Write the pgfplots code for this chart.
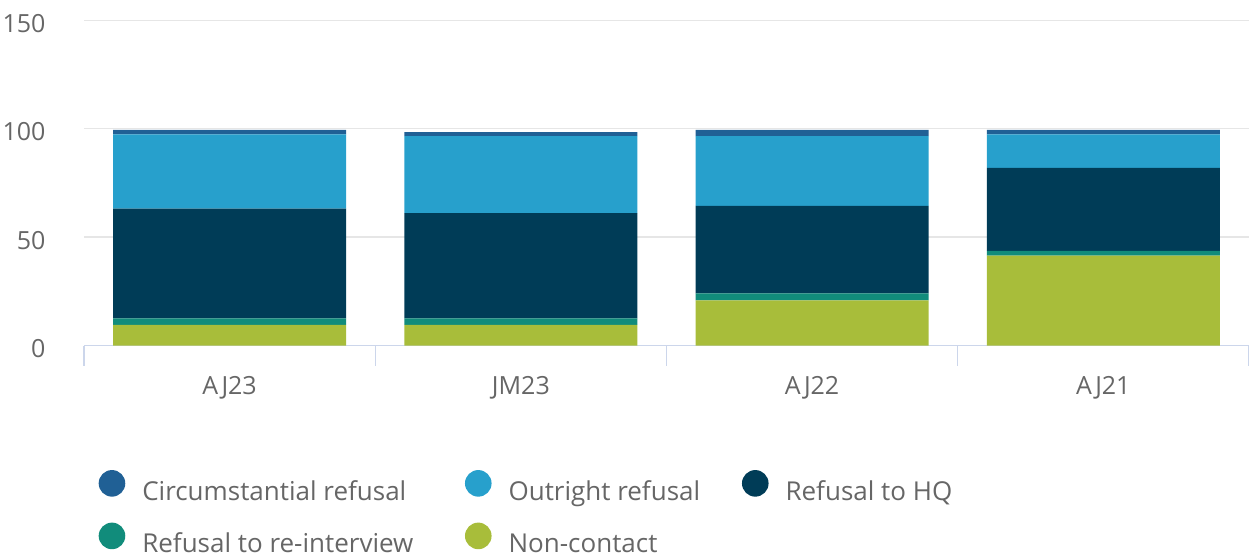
\documentclass[border=0pt]{standalone}
\usepackage{pgfplots}
\pgfplotsset{compat=1.18}
\usepackage{fontspec}
\setmainfont{Open Sans}
\definecolor{cCirc}{HTML}{206095}
\definecolor{cOut}{HTML}{27A0CC}
\definecolor{cHQ}{HTML}{003C57}
\definecolor{cRe}{HTML}{118C7B}
\definecolor{cNC}{HTML}{A8BD3A}
\definecolor{txt}{HTML}{666666}
\definecolor{axl}{HTML}{CCD6EB}
\definecolor{grd}{HTML}{E6E6E6}
\newcommand{\lt}[2]{\makebox[#1][l]{\rule[-2pt]{0pt}{21pt}#2}}
\pgfplotsset{legcirc/.style={legend image code/.code={\fill[##1] (13.3pt,8.5pt) circle (13.3pt);}}}
\begin{document}
\fontsize{24}{29}\selectfont
\begin{tikzpicture}
\path[use as bounding box] (0,0) rectangle (1249pt,557pt);
\begin{axis}[
  at={(84pt,211.5pt)}, anchor=south west,
  scale only axis, width=1165pt, height=325.2pt,
  ybar stacked, bar width=233pt,
  xmin=-0.5, xmax=3.5, ymin=0, ymax=150,
  ytick={0,50,100,150},
  xtick={0,1,2,3}, xticklabels={AJ23,JM23,AJ22,AJ21},
  minor xtick={-0.5,0.5,1.5,2.5,3.5},
  axis x line*=bottom, axis y line*=left,
  x axis line style={draw=axl, line width=1.5pt, -},
  y axis line style={draw=none},
  tick align=outside,
  major x tick style={draw=none},
  minor x tick style={draw=axl, line width=1.5pt},
  minor tick length=20pt,
  y tick style={draw=none},
  ymajorgrids, grid style={draw=grd, line width=1.5pt},
  ticklabel style={font=\fontsize{25}{30}\selectfont, text=txt},
  /pgf/number format/assume math mode=true,
  xticklabel style={yshift=-18pt},
  yticklabel style={xshift=-26pt, yshift=-3pt},
  reverse legend,
  legend columns=3,
  legend style={at={(0.0126,-0.383)}, anchor=north west, draw=none, fill=none,
    inner sep=0pt, outer sep=0pt, row sep=19pt,
    font=\fontsize{26}{31}\selectfont, text=txt,
    nodes={inner sep=0pt, outer sep=0pt},
    /tikz/every odd column/.append style={column sep=17pt},
    /tikz/every even column/.append style={column sep=0pt}},
]
\addplot[fill=cNC, draw=none, legcirc] coordinates {(0,9.5) (1,9.5) (2,20.8) (3,41.4)};
\addlegendentry{\lt{233.4pt}{Non-contact}}
\addplot[fill=cRe, draw=none, legcirc] coordinates {(0,3.0) (1,3.0) (2,3.3) (3,2.2)};
\addlegendentry{\lt{322.7pt}{Refusal to re-interview}}
\addplot[fill=cHQ, draw=none, legcirc] coordinates {(0,50.6) (1,48.6) (2,40.3) (3,38.3)};
\addlegendentry{\lt{200pt}{Refusal to HQ}}
\addplot[fill=cOut, draw=none, legcirc] coordinates {(0,34.3) (1,35.5) (2,32.2) (3,15.5)};
\addlegendentry{\lt{233.4pt}{Outright refusal}}
\addplot[fill=cCirc, draw=none, legcirc] coordinates {(0,2.0) (1,1.8) (2,2.8) (3,2.0)};
\addlegendentry{\lt{322.7pt}{Circumstantial refusal}}
\end{axis}
\end{tikzpicture}
\end{document}
